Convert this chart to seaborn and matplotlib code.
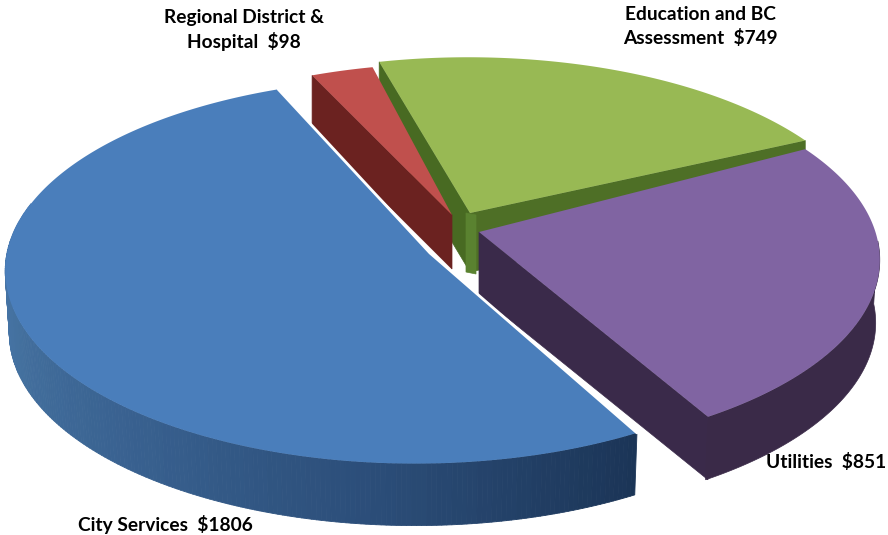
import numpy as np
import matplotlib
matplotlib.use("Agg")
import matplotlib.pyplot as plt
from matplotlib.collections import PolyCollection
import seaborn as sns

# Property tax breakdown, dollars
categories = ["City Services", "Utilities", "Education and BC\nAssessment", "Regional District &\nHospital"]
amounts = [1806, 851, 749, 98]

sns.set_theme(style="white")
plt.rcParams["font.family"] = ["Lato", "DejaVu Sans"]

top_colors = sns.color_palette(["#4A7EBB", "#8064A2", "#98B954", "#C0504D"])
blue_wall = sns.blend_palette(["#4A7BB5", "#44719F", "#38608F", "#2B4D78", "#1B3557"], 80)

# Camera model: a tilted disc seen with mild perspective
RX, RY, PERSP = 408.0, 191.0, 0.093
START_ANGLE = 111.0
ORIGINS = [(415, 253), (470, 242), (468, 232), (455, 238)]
APEXES = [(430, 253), (479, 232), (470, 213), (452, 215)]
DEPTHS = [62, 63, 59, 54]
SPINS = [-1.0, 1.5, 1.0, 0.0]


def warp(theta):
    # foreshortening of the pie angle caused by the camera rotation
    return theta + 2.8 * (1 + np.cos(np.radians(theta - 350)))


def rim(theta, origin, spin=0.0, depth=0.0):
    t = np.radians(warp(np.asarray(theta, dtype=float)) + spin)
    u, v = np.cos(t), np.sin(t)
    w = 1 + PERSP * v
    scale = 1 - 0.01 * (depth > 0)
    return np.column_stack((origin[0] + scale * RX * u / w,
                            origin[1] - RY * v / w + depth))


def side_face(a, b, depth, color, ax, z):
    quad = [a, b, (b[0], b[1] + depth), (a[0], a[1] + depth)]
    ax.add_patch(plt.Polygon(quad, closed=True, fc=color, ec=color, lw=0.5, zorder=z))


fig = plt.figure(figsize=(8.88, 5.35), dpi=100)
ax = fig.add_axes([0, 0, 1, 1])
ax.set_xlim(0, 888)
ax.set_ylim(535, 0)
ax.axis("off")

fractions = np.array(amounts) / np.sum(amounts)
edges = START_ANGLE + 360 * np.concatenate(([0], np.cumsum(fractions)))
spans = list(zip(edges[:-1], edges[1:]))

# Regional District and Education: only the cut faces show
g0, g1 = spans[2]
g_arc = rim(np.linspace(g0, g1, 120), ORIGINS[2], SPINS[2])
side_face(APEXES[2], g_arc[0], DEPTHS[2], "#4E6F26", ax, 1)
side_face(APEXES[2], g_arc[-1], DEPTHS[2], "#486A22", ax, 1)
side_face((APEXES[2][0] - 4, APEXES[2][1]), (APEXES[2][0] + 6, APEXES[2][1] + 2), DEPTHS[2], "#5A8230", ax, 1.5)
ax.fill(*np.vstack((APEXES[2], g_arc)).T, color=top_colors[2], lw=0, zorder=2)

r0, r1 = spans[3]
r_arc = rim(np.linspace(r0, r1, 40), ORIGINS[3], SPINS[3])
side_face(APEXES[3], r_arc[-1], DEPTHS[3], "#6B2220", ax, 3)
ax.fill(*np.vstack((APEXES[3], r_arc)).T, color=top_colors[3], lw=0, zorder=4)

# Utilities: cut face, curved wall, top
p0, p1 = spans[1]
p_theta = np.linspace(p0, p1, 200)
p_arc = rim(p_theta, ORIGINS[1], SPINS[1])
p_low = rim(p_theta, ORIGINS[1], SPINS[1], DEPTHS[1])
side_face(APEXES[1], p_arc[0], DEPTHS[1], "#3A2A4A", ax, 5)
ax.fill(*np.vstack((p_arc[:130], p_low[:130][::-1])).T, color="#3A2A48", lw=0.5, zorder=5)
ax.fill(*np.vstack((APEXES[1], p_arc)).T, color=top_colors[1], lw=0, zorder=6)

# City Services: shaded curved wall, then the top with a pale cut edge
b0, b1 = spans[0]
b_theta = np.linspace(b0, b1, 300)
b_arc = rim(b_theta, ORIGINS[0], SPINS[0])
b_low = rim(b_theta, ORIGINS[0], SPINS[0], DEPTHS[0])
front = np.flatnonzero(b_theta > 165)
quads, colors = [], []
for n, i in enumerate(front[:-1]):
    quads.append([b_arc[i], b_arc[i + 1], b_low[i + 1], b_low[i]])
    colors.append(blue_wall[int(n / (len(front) - 1) * len(blue_wall))])
ax.add_collection(PolyCollection(quads, facecolors=colors, edgecolors=colors, linewidths=0.6, zorder=7))
ax.fill(*np.vstack((APEXES[0], b_arc)).T, color=top_colors[0], lw=0, zorder=8)
ax.plot(*np.vstack((b_arc[0], APEXES[0], b_arc[-1])).T, color="white", lw=2, zorder=9, solid_joinstyle="miter")

# Labels
label_style = dict(fontsize=13.8, fontweight="bold", color="black", zorder=10, linespacing=1.4)
label_spots = [(165, 524, "center"), (826, 462, "center"), (700, 27, "center"), (244, 30, "center")]
for name, amount, (x, y, ha) in zip(categories, amounts, label_spots):
    ax.text(x, y, f"{name}  ${amount}", ha=ha, va="center", multialignment="center", **label_style)

fig.savefig("out.png", dpi=100, facecolor="white")
